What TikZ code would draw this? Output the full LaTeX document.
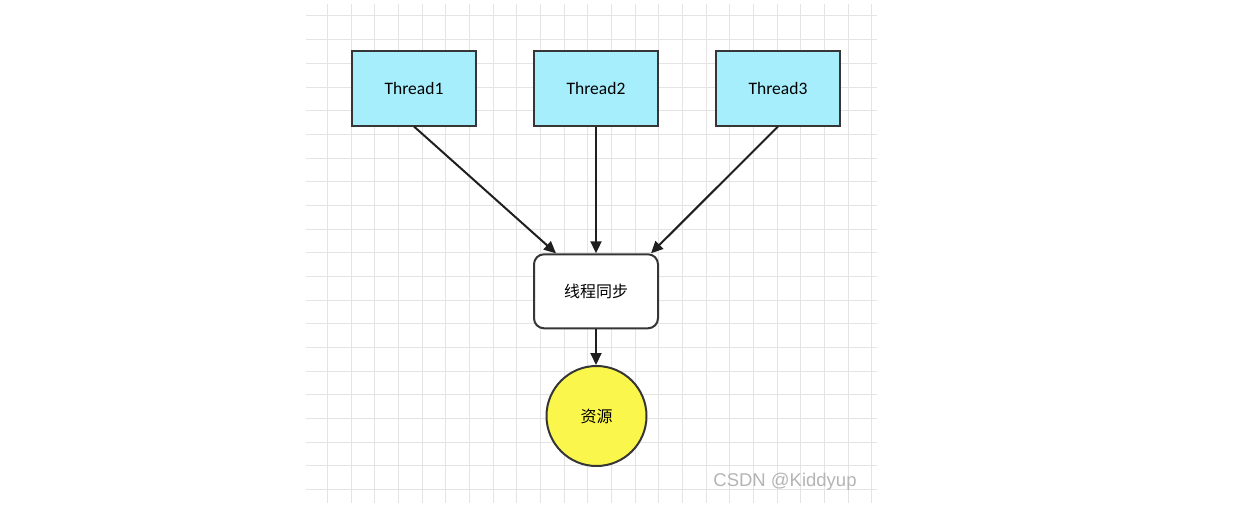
\documentclass[tikz,border=0pt]{standalone}
\usepackage{fontspec}
\setmainfont{Carlito}
\newfontfamily\cjk{Noto Sans CJK SC}
\newfontfamily\markfont{Liberation Sans}
\usetikzlibrary{arrows.meta}
\definecolor{gridgray}{HTML}{E4E4E4}
\definecolor{boxgray}{HTML}{363636}
\definecolor{threadcyan}{HTML}{A6EEFC}
\definecolor{resyellow}{HTML}{FAF64C}
\definecolor{markgray}{HTML}{B4B4B4}

\begin{document}
\begin{tikzpicture}[x=1pt,y=-1pt,
		gridline/.style={draw=gridgray,line width=1pt},
		threadbox/.style={rectangle,draw=boxgray,line width=2pt,fill=threadcyan,minimum width=124pt,minimum height=74pt,font=\fontsize{17.5}{20}\selectfont},
		syncbox/.style={rectangle,rounded corners=10pt,draw=boxgray,line width=2pt,fill=white,minimum width=124pt,minimum height=74pt,font=\cjk\fontsize{16}{19}\selectfont},
		resource/.style={circle,draw=boxgray,line width=2pt,fill=resyellow,minimum size=100pt,inner sep=0pt,font=\cjk\fontsize{16}{19}\selectfont},
		flow/.style={draw=black!88,line width=2pt,-{Triangle[length=12pt,width=11pt]}},
		watermark/.style={text=markgray,font=\markfont\fontsize{18.5}{22}\selectfont}
	]
		
			\useasboundingbox (0,0) rectangle (1245,519);
			
			\foreach \i in {0,...,23}
				\draw[gridline] ({327.5+\i*23.67},4) -- ({327.5+\i*23.67},503);
			\foreach \j in {0,...,20}
				\draw[gridline] (306,{16+\j*23.67}) -- (877,{16+\j*23.67});
			
			\node[threadbox] (t1) at (414,88.5) {Thread1};
			\node[threadbox] (t2) at (596,88.5) {Thread2};
			\node[threadbox] (t3) at (778,88.5) {Thread3};
			
			\node[syncbox] (sync) at (596,291.3) {线程同步};
			\node[resource] (res) at (596.5,416) {资源};
			
			\path[flow] (t1.south) -- ([xshift=-40pt]sync.north);
			\path[flow] (t2.south) -- (sync.north);
			\path[flow] (t3.south) -- ([xshift=55pt]sync.north);
			\path[flow] (sync.south) -- (sync.south |- res.north);
			
			\node[watermark] (mark) at (785,482) {CSDN @Kiddyup};
		
		\end{tikzpicture}
\end{document}
